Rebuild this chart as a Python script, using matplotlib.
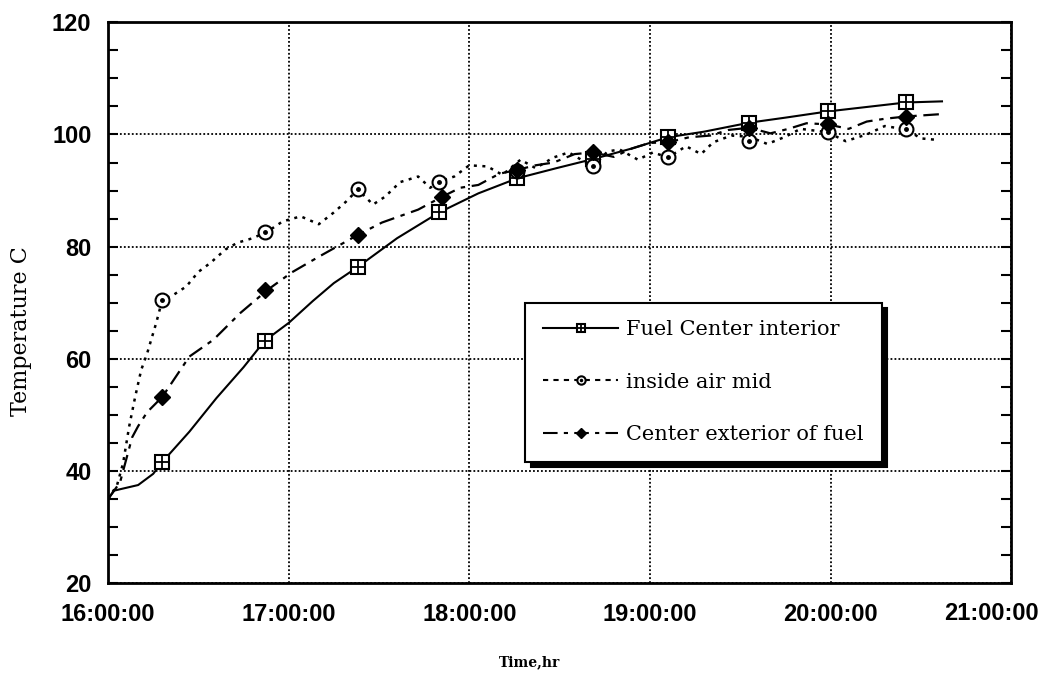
import matplotlib
matplotlib.use("Agg")
import matplotlib.pyplot as plt
import matplotlib.dates as mdates
from matplotlib.ticker import MultipleLocator
from matplotlib.lines import Line2D
import pandas as pd

DAY = "2000-01-01 "

# Fuel Center interior (solid line), times as minutes after 16:00
interior_min = [0, 2, 6, 10, 15, 18, 27, 36, 45, 52, 60, 68, 75, 83, 96, 110,
                123, 136, 149, 161, 174, 186, 198, 213, 225, 239, 252, 265, 277]
interior_temp = [35.0, 36.5, 37.0, 37.5, 39.5, 41.6, 47.0, 53.0, 58.5, 63.2, 66.4,
                 70.3, 73.5, 76.4, 81.5, 86.1, 89.5, 92.2, 94.0, 95.6, 97.5, 99.5,
                 100.5, 102.1, 103.0, 104.1, 104.9, 105.7, 105.9]
interior_mk_min = [18, 52, 83, 110, 136, 161, 186, 213, 239, 265]
interior_mk_temp = [41.6, 63.2, 76.4, 86.1, 92.2, 95.6, 99.5, 102.1, 104.1, 105.7]

# inside air mid (dotted line)
air_min = [0, 3, 5, 7, 9, 11, 13, 16, 18, 22, 26, 30, 34, 39, 43, 48, 53, 58, 64,
           70, 75, 79, 83, 88, 92, 97, 103, 107, 110, 115, 120, 126, 131, 137, 142,
           148, 153, 161, 166, 170, 176, 181, 186, 192, 197, 201, 207, 213, 219,
           225, 230, 239, 245, 252, 258, 265, 270, 276]
air_temp = [35.0, 37.5, 41.4, 47.9, 53.2, 58.0, 61.0, 66.4, 70.5, 71.5, 72.9, 75.5,
            77.1, 79.5, 80.7, 81.5, 82.7, 84.5, 85.4, 84.0, 86.1, 88.0, 90.2, 87.5,
            88.9, 91.5, 92.5, 90.5, 91.6, 92.5, 94.5, 94.3, 92.8, 95.5, 94.0, 95.9,
            96.8, 94.3, 97.0, 97.3, 95.5, 96.8, 95.9, 97.9, 96.5, 98.6, 99.8, 99.6,
            98.3, 99.6, 101.0, 100.4, 98.8, 100.0, 101.5, 100.9, 99.3, 99.0]
air_mk_min = [18, 52, 83, 110, 136, 161, 186, 213, 239, 265]
air_mk_temp = [70.5, 82.7, 90.2, 91.6, 93.5, 94.3, 95.9, 98.8, 100.4, 100.9]

# Center exterior of fuel (dash-dot line)
ext_min = [0, 4, 6, 8, 10, 13, 18, 27, 35, 44, 53, 61, 70, 83, 91, 103, 111, 117,
           123, 130, 136, 142, 148, 155, 161, 168, 174, 180, 186, 193, 200, 206,
           213, 220, 226, 232, 239, 246, 252, 258, 265, 276]
ext_temp = [35.0, 38.0, 42.0, 46.0, 48.0, 50.5, 53.2, 60.4, 63.4, 68.2, 72.3, 75.4,
            78.2, 82.1, 84.3, 86.6, 88.9, 90.5, 91.0, 93.0, 93.7, 94.5, 95.0, 96.5,
            96.8, 96.0, 97.5, 98.5, 98.6, 99.5, 99.8, 100.8, 101.2, 100.2, 101.0,
            102.0, 101.8, 101.0, 102.3, 102.8, 103.2, 103.6]
ext_mk_min = [18, 52, 83, 111, 136, 161, 186, 213, 239, 265]
ext_mk_temp = [53.2, 72.3, 82.1, 88.9, 93.7, 96.8, 98.6, 101.2, 101.8, 103.2]

labels = ["Fuel Center interior", "inside air mid", "Center exterior of fuel"]


def to_time(minutes):
    return pd.Timestamp(DAY + "16:00") + pd.to_timedelta(minutes, unit="m")


fig = plt.figure(figsize=(10.49, 6.75), dpi=100)
ax = fig.add_axes([0.103, 0.136, 0.861, 0.831])

ax.plot(to_time(interior_min), interior_temp, color="black", lw=1.5, ls="-")
ax.plot(to_time(air_min), air_temp, color="black", lw=1.8, ls=(0, (1.2, 2.2)))
ax.plot(to_time(ext_min), ext_temp, color="black", lw=1.6, ls=(0, (7, 3, 2, 3)))

sq = ax.plot(to_time(interior_mk_min), interior_mk_temp, ls="none", marker="s",
             ms=10, mfc="white", mec="black", mew=1.5)[0]
sq_p = ax.plot(to_time(interior_mk_min), interior_mk_temp, ls="none", marker="+",
               ms=10, mec="black", mew=1.3)[0]
ci = ax.plot(to_time(air_mk_min), air_mk_temp, ls="none", marker="o",
             ms=10, mfc="white", mec="black", mew=1.5)[0]
ci_d = ax.plot(to_time(air_mk_min), air_mk_temp, ls="none", marker="o",
               ms=2.5, mfc="black", mec="black")[0]
di = ax.plot(to_time(ext_mk_min), ext_mk_temp, ls="none", marker="D",
             ms=8, mfc="black", mec="black")[0]

ax.set_xlim(to_time(0), to_time(300))
ax.set_ylim(20, 120)
ax.xaxis.set_major_locator(mdates.HourLocator())
ax.xaxis.set_major_formatter(mdates.DateFormatter("%H:%M:%S"))
ax.yaxis.set_major_locator(MultipleLocator(20))
ax.yaxis.set_minor_locator(MultipleLocator(5))
ax.grid(True, which="major", color="black", ls=(0, (1, 1.2)), lw=1.3)

for s in ax.spines.values():
    s.set_linewidth(2)
ax.tick_params(axis="y", which="both", direction="in", left=True, right=True,
               length=7, width=1.5, pad=12)
ax.tick_params(axis="x", which="both", direction="in", length=0, pad=14)
tick_font = {"family": "Liberation Sans", "weight": "bold", "size": 17}
for t in ax.get_xticklabels() + ax.get_yticklabels():
    t.set_fontfamily(tick_font["family"])
    t.set_fontweight(tick_font["weight"])
    t.set_fontsize(tick_font["size"])

# the last time label sits pulled in from the right edge, as in the original
fig.canvas.draw()
last = ax.get_xticklabels()[-1]
ax.text(0.978, -0.033, last.get_text(), transform=ax.transAxes,
        ha="center", va="top", fontfamily=tick_font["family"],
        fontweight=tick_font["weight"], fontsize=tick_font["size"], clip_on=False)
last.set_visible(False)

ax.set_xlabel("Time,hr", fontfamily="DejaVu Serif", fontsize=10, fontweight="bold")
ax.xaxis.set_label_coords(0.467, -0.128)
ax.set_ylabel("Temperature C", fontfamily="DejaVu Serif", fontsize=16)
ax.yaxis.set_label_coords(-0.084, 0.45)

h1 = (Line2D([], [], color="black", lw=1.5), sq, sq_p)
h2 = (Line2D([], [], color="black", lw=1.5, ls=(0, (2.5, 2.5))), ci, ci_d)
h3 = (Line2D([], [], color="black", lw=1.5, ls=(0, (7, 3, 2, 3))), di)
leg = ax.legend([h1, h2, h3], labels, loc="upper left", bbox_to_anchor=(0.462, 0.50),
                borderaxespad=0, frameon=True, fancybox=False,
                shadow={"ox": 4, "oy": -4, "facecolor": "black", "edgecolor": "black",
                        "alpha": 1},
                prop={"family": "DejaVu Serif", "size": 15},
                handlelength=3.6, handletextpad=0.4, labelspacing=1.6,
                borderpad=0.85, markerscale=0.6)
leg.get_frame().set_edgecolor("black")
leg.get_frame().set_linewidth(1.5)
leg.get_frame().set_alpha(1)

fig.savefig("out.png", dpi=100)
